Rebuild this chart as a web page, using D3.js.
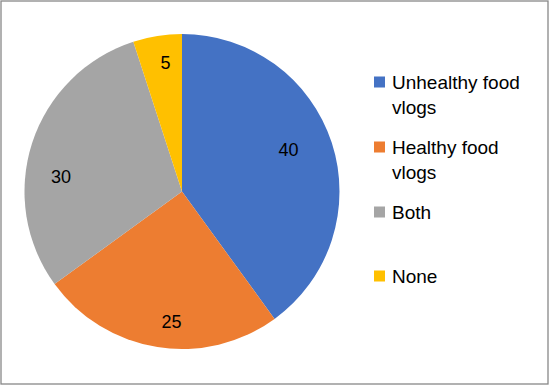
<!DOCTYPE html>
<html><head><meta charset="utf-8">
<script src="https://cdn.jsdelivr.net/npm/d3@7"></script>
<style>body{margin:0;background:#fff}svg{display:block}</style>
</head><body>
<svg id="c" width="550" height="386"></svg>
<script>
const categories = ["Unhealthy food vlogs", "Healthy food vlogs", "Both", "None"];
const legendLines = [["Unhealthy food", "vlogs"], ["Healthy food", "vlogs"], ["Both"], ["None"]];
const values = [40, 25, 30, 5];
const colors = ["#4472C4", "#ED7D31", "#A5A5A5", "#FFC000"];
// label placement (best-fit style): radius fraction and angle shift (degrees)
const labelRadius = [0.726, 0.828, 0.774, 0.823];
const labelShift = [-3.3, -4.4, -10.9, 1.7];

const svg = d3.select("#c");
const font = "'Liberation Sans', Arial, sans-serif";
svg.append("rect").attr("x", 1).attr("y", 1).attr("width", 547).attr("height", 383)
  .attr("fill", "#fff").attr("stroke", "#888").attr("stroke-width", 1.3);

const cx = 182, cy = 191.5, r = 157.5;
const g = svg.append("g").attr("transform", `translate(${cx},${cy})`);
const pie = d3.pie().sort(null).value(d => d)(values);
const arc = d3.arc().innerRadius(0).outerRadius(r);
g.selectAll("path").data(pie).join("path").attr("d", arc).attr("fill", (d, i) => colors[i]);

g.selectAll("text.v").data(pie).join("text").attr("class", "v")
  .attr("transform", (d, i) => {
    const a = (d.startAngle + d.endAngle) / 2 + labelShift[i] * Math.PI / 180;
    const rr = r * labelRadius[i];
    return `translate(${rr * Math.sin(a)},${-rr * Math.cos(a)})`;
  })
  .attr("text-anchor", "middle").attr("dy", "0.36em")
  .attr("font-family", font).attr("font-size", 18).attr("fill", "#000")
  .text(d => d.data);

const legendY = [82, 147, 212, 276];
const lg = svg.append("g");
categories.forEach((c, i) => {
  lg.append("rect").attr("x", 374).attr("y", legendY[i] - 5.5).attr("width", 11).attr("height", 11).attr("fill", colors[i]);
  const t = lg.append("text").attr("x", 392).attr("y", legendY[i] + 6.5)
    .attr("font-family", font).attr("font-size", 19).attr("fill", "#000");
  legendLines[i].forEach((ln, j) => t.append("tspan").attr("x", 392).attr("dy", j === 0 ? 0 : 25).text(ln));
});
</script>
</body></html>
